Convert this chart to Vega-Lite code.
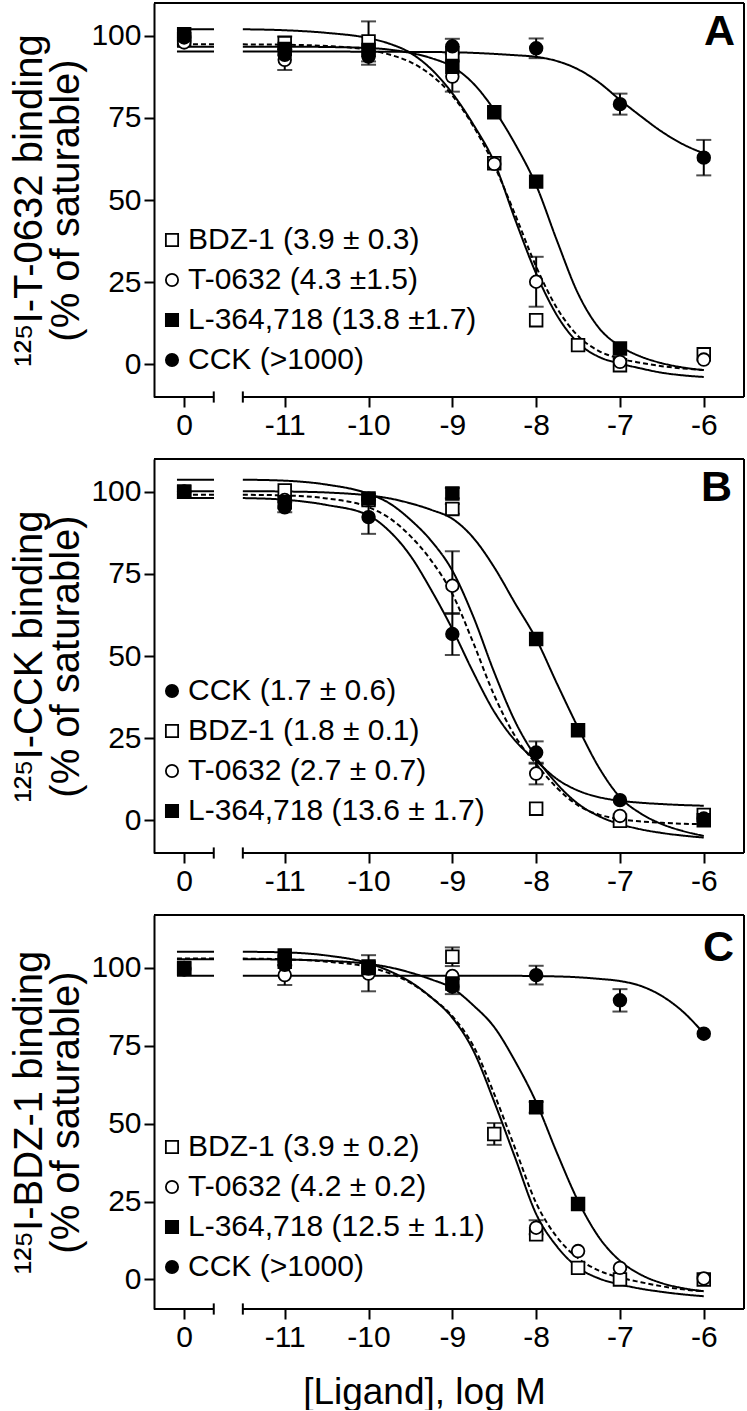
{
"$schema":"https://vega.github.io/schema/vega-lite/v6.json",
"background":"white",
"padding":{"left":9,"top":2,"right":0,"bottom":0},
"config":{
 "font":"Liberation Sans",
 "view":{"stroke":null},
 "axis":{"labelFontSize":30,"labelColor":"black","tickColor":"black","domainColor":"black","tickSize":10,"tickWidth":2,"domainWidth":2,"grid":false,"labelPadding":3,"titleFontSize":40,"titleFontWeight":"normal","titleColor":"black"},
 "legend":{"orient":"none","labelFontSize":30,"labelColor":"black","labelLimit":600,"symbolStrokeColor":"black","symbolStrokeWidth":1.8,"symbolSize":150,"rowPadding":10,"labelOffset":1,"padding":0}
},
"datasets":{
"one":[{}],
"pts":[
{"panel":"A","label":"BDZ-1 (3.9 ± 0.3)","logM":0,"pct":99},
{"panel":"A","label":"BDZ-1 (3.9 ± 0.3)","logM":-11,"pct":97.8},
{"panel":"A","label":"BDZ-1 (3.9 ± 0.3)","logM":-10,"pct":98.3},
{"panel":"A","label":"BDZ-1 (3.9 ± 0.3)","logM":-9,"pct":94.7},
{"panel":"A","label":"BDZ-1 (3.9 ± 0.3)","logM":-8.5,"pct":61.2},
{"panel":"A","label":"BDZ-1 (3.9 ± 0.3)","logM":-8,"pct":13.4},
{"panel":"A","label":"BDZ-1 (3.9 ± 0.3)","logM":-7.5,"pct":5.8},
{"panel":"A","label":"BDZ-1 (3.9 ± 0.3)","logM":-7,"pct":-0.3},
{"panel":"A","label":"BDZ-1 (3.9 ± 0.3)","logM":-6,"pct":3.0},
{"panel":"A","label":"T-0632 (4.3 ±1.5)","logM":0,"pct":98},
{"panel":"A","label":"T-0632 (4.3 ±1.5)","logM":-11,"pct":92.7},
{"panel":"A","label":"T-0632 (4.3 ±1.5)","logM":-10,"pct":95},
{"panel":"A","label":"T-0632 (4.3 ±1.5)","logM":-9,"pct":87.6},
{"panel":"A","label":"T-0632 (4.3 ±1.5)","logM":-8.5,"pct":61},
{"panel":"A","label":"T-0632 (4.3 ±1.5)","logM":-8,"pct":25.1},
{"panel":"A","label":"T-0632 (4.3 ±1.5)","logM":-7,"pct":0.7},
{"panel":"A","label":"T-0632 (4.3 ±1.5)","logM":-6,"pct":1.4},
{"panel":"A","label":"L-364,718 (13.8 ±1.7)","logM":0,"pct":100.5},
{"panel":"A","label":"L-364,718 (13.8 ±1.7)","logM":-11,"pct":96},
{"panel":"A","label":"L-364,718 (13.8 ±1.7)","logM":-10,"pct":95.7},
{"panel":"A","label":"L-364,718 (13.8 ±1.7)","logM":-9,"pct":90.6},
{"panel":"A","label":"L-364,718 (13.8 ±1.7)","logM":-8.5,"pct":76.7},
{"panel":"A","label":"L-364,718 (13.8 ±1.7)","logM":-8,"pct":55.6},
{"panel":"A","label":"L-364,718 (13.8 ±1.7)","logM":-7,"pct":4.8},
{"panel":"A","label":"CCK (>1000)","logM":0,"pct":99.5},
{"panel":"A","label":"CCK (>1000)","logM":-11,"pct":94.2},
{"panel":"A","label":"CCK (>1000)","logM":-10,"pct":93.7},
{"panel":"A","label":"CCK (>1000)","logM":-9,"pct":96.8},
{"panel":"A","label":"CCK (>1000)","logM":-8,"pct":96.2},
{"panel":"A","label":"CCK (>1000)","logM":-7,"pct":79.2},
{"panel":"A","label":"CCK (>1000)","logM":-6,"pct":62.9},
{"panel":"B","label":"BDZ-1 (1.8 ± 0.1)","logM":0,"pct":100},
{"panel":"B","label":"BDZ-1 (1.8 ± 0.1)","logM":-11,"pct":100.4},
{"panel":"B","label":"BDZ-1 (1.8 ± 0.1)","logM":-10,"pct":97.5},
{"panel":"B","label":"BDZ-1 (1.8 ± 0.1)","logM":-9,"pct":94.8},
{"panel":"B","label":"BDZ-1 (1.8 ± 0.1)","logM":-8,"pct":3.5},
{"panel":"B","label":"BDZ-1 (1.8 ± 0.1)","logM":-7,"pct":-0.2},
{"panel":"B","label":"BDZ-1 (1.8 ± 0.1)","logM":-6,"pct":1.6},
{"panel":"B","label":"T-0632 (2.7 ± 0.7)","logM":0,"pct":100},
{"panel":"B","label":"T-0632 (2.7 ± 0.7)","logM":-11,"pct":97.5},
{"panel":"B","label":"T-0632 (2.7 ± 0.7)","logM":-10,"pct":97.9},
{"panel":"B","label":"T-0632 (2.7 ± 0.7)","logM":-9,"pct":71.4},
{"panel":"B","label":"T-0632 (2.7 ± 0.7)","logM":-8,"pct":14.2},
{"panel":"B","label":"T-0632 (2.7 ± 0.7)","logM":-7,"pct":1.3},
{"panel":"B","label":"L-364,718 (13.6 ± 1.7)","logM":0,"pct":100},
{"panel":"B","label":"L-364,718 (13.6 ± 1.7)","logM":-11,"pct":96.8},
{"panel":"B","label":"L-364,718 (13.6 ± 1.7)","logM":-10,"pct":98},
{"panel":"B","label":"L-364,718 (13.6 ± 1.7)","logM":-9,"pct":99.5},
{"panel":"B","label":"L-364,718 (13.6 ± 1.7)","logM":-8,"pct":55.2},
{"panel":"B","label":"L-364,718 (13.6 ± 1.7)","logM":-7.5,"pct":27.4},
{"panel":"B","label":"L-364,718 (13.6 ± 1.7)","logM":-6,"pct":0},
{"panel":"B","label":"CCK (1.7 ± 0.6)","logM":0,"pct":100},
{"panel":"B","label":"CCK (1.7 ± 0.6)","logM":-11,"pct":95.3},
{"panel":"B","label":"CCK (1.7 ± 0.6)","logM":-10,"pct":92.3},
{"panel":"B","label":"CCK (1.7 ± 0.6)","logM":-9,"pct":56.7},
{"panel":"B","label":"CCK (1.7 ± 0.6)","logM":-8,"pct":20.6},
{"panel":"B","label":"CCK (1.7 ± 0.6)","logM":-7,"pct":6.1},
{"panel":"B","label":"CCK (1.7 ± 0.6)","logM":-6,"pct":0.5},
{"panel":"C","label":"BDZ-1 (3.9 ± 0.2)","logM":0,"pct":100},
{"panel":"C","label":"BDZ-1 (3.9 ± 0.2)","logM":-11,"pct":102},
{"panel":"C","label":"BDZ-1 (3.9 ± 0.2)","logM":-10,"pct":100.5},
{"panel":"C","label":"BDZ-1 (3.9 ± 0.2)","logM":-9,"pct":103.6},
{"panel":"C","label":"BDZ-1 (3.9 ± 0.2)","logM":-8.5,"pct":46.7},
{"panel":"C","label":"BDZ-1 (3.9 ± 0.2)","logM":-8,"pct":14.5},
{"panel":"C","label":"BDZ-1 (3.9 ± 0.2)","logM":-7.5,"pct":3.7},
{"panel":"C","label":"BDZ-1 (3.9 ± 0.2)","logM":-7,"pct":0},
{"panel":"C","label":"BDZ-1 (3.9 ± 0.2)","logM":-6,"pct":0},
{"panel":"C","label":"T-0632 (4.2 ± 0.2)","logM":0,"pct":99.5},
{"panel":"C","label":"T-0632 (4.2 ± 0.2)","logM":-11,"pct":97.7},
{"panel":"C","label":"T-0632 (4.2 ± 0.2)","logM":-10,"pct":98.2},
{"panel":"C","label":"T-0632 (4.2 ± 0.2)","logM":-9,"pct":97.4},
{"panel":"C","label":"T-0632 (4.2 ± 0.2)","logM":-8,"pct":16.6},
{"panel":"C","label":"T-0632 (4.2 ± 0.2)","logM":-7.5,"pct":9.1},
{"panel":"C","label":"T-0632 (4.2 ± 0.2)","logM":-7,"pct":3.7},
{"panel":"C","label":"T-0632 (4.2 ± 0.2)","logM":-6,"pct":0.3},
{"panel":"C","label":"L-364,718 (12.5 ± 1.1)","logM":0,"pct":99.8},
{"panel":"C","label":"L-364,718 (12.5 ± 1.1)","logM":-11,"pct":104},
{"panel":"C","label":"L-364,718 (12.5 ± 1.1)","logM":-10,"pct":100},
{"panel":"C","label":"L-364,718 (12.5 ± 1.1)","logM":-9,"pct":95},
{"panel":"C","label":"L-364,718 (12.5 ± 1.1)","logM":-8,"pct":55.3},
{"panel":"C","label":"L-364,718 (12.5 ± 1.1)","logM":-7.5,"pct":24.2},
{"panel":"C","label":"CCK (>1000)","logM":0,"pct":100},
{"panel":"C","label":"CCK (>1000)","logM":-11,"pct":101},
{"panel":"C","label":"CCK (>1000)","logM":-10,"pct":99.8},
{"panel":"C","label":"CCK (>1000)","logM":-9,"pct":94},
{"panel":"C","label":"CCK (>1000)","logM":-8,"pct":97.7},
{"panel":"C","label":"CCK (>1000)","logM":-7,"pct":89.6},
{"panel":"C","label":"CCK (>1000)","logM":-6,"pct":78.9}
],
"err":[
{"panel":"A","logM":-11,"lo":95.8,"hi":99.8},
{"panel":"A","logM":-10,"lo":92.2,"hi":104.4},
{"panel":"A","logM":-11,"lo":89.6,"hi":95.8},
{"panel":"A","logM":-9,"lo":83,"hi":92.2},
{"panel":"A","logM":-8,"lo":17.5,"hi":32.7},
{"panel":"A","logM":-10,"lo":91.2,"hi":96.2},
{"panel":"A","logM":-9,"lo":94.5,"hi":99.1},
{"panel":"A","logM":-8,"lo":93.2,"hi":99.2},
{"panel":"A","logM":-7,"lo":76,"hi":82.4},
{"panel":"A","logM":-6,"lo":57.5,"hi":68.3},
{"panel":"B","logM":-11,"lo":93.8,"hi":96.8},
{"panel":"B","logM":-10,"lo":87.2,"hi":97.4},
{"panel":"B","logM":-9,"lo":50.3,"hi":63.1},
{"panel":"B","logM":-8,"lo":17.2,"hi":24},
{"panel":"B","logM":-9,"lo":62.8,"hi":81.9},
{"panel":"B","logM":-8,"lo":10.9,"hi":17.5},
{"panel":"B","logM":-9,"lo":93.3,"hi":96.3},
{"panel":"B","logM":-9,"lo":98,"hi":101.2},
{"panel":"C","logM":-9,"lo":100.6,"hi":106.6},
{"panel":"C","logM":-8.5,"lo":43.2,"hi":50.2},
{"panel":"C","logM":-11,"lo":94.5,"hi":100.9},
{"panel":"C","logM":-10,"lo":92.5,"hi":104.1},
{"panel":"C","logM":-8,"lo":14.5,"hi":19},
{"panel":"C","logM":-8,"lo":53.5,"hi":57},
{"panel":"C","logM":-9,"lo":91.6,"hi":96.4},
{"panel":"C","logM":-8,"lo":94.7,"hi":100.7},
{"panel":"C","logM":-7,"lo":86,"hi":93.2}
],
"zero":[
{"panel":"A","ligand":"BDZ-1","top":102},
{"panel":"A","ligand":"T-0632","top":97.4},
{"panel":"A","ligand":"L-364,718","top":96.7},
{"panel":"A","ligand":"CCK","top":95.2},
{"panel":"B","ligand":"BDZ-1","top":103.7},
{"panel":"B","ligand":"T-0632","top":99.1},
{"panel":"B","ligand":"L-364,718","top":100.2},
{"panel":"B","ligand":"CCK","top":98.1},
{"panel":"C","ligand":"BDZ-1","top":105.2},
{"panel":"C","ligand":"T-0632","top":103},
{"panel":"C","ligand":"L-364,718","top":102.8},
{"panel":"C","ligand":"CCK","top":97.5}
],
"curves":[
{"panel":"A","ligand":"BDZ-1","logM":-11.5,"pct":102.0},{"panel":"A","ligand":"BDZ-1","logM":-11,"pct":101.7},{"panel":"A","ligand":"BDZ-1","logM":-10.5,"pct":100.9},{"panel":"A","ligand":"BDZ-1","logM":-10,"pct":99.3},{"panel":"A","ligand":"BDZ-1","logM":-9.75,"pct":97.6},{"panel":"A","ligand":"BDZ-1","logM":-9.5,"pct":94.8},{"panel":"A","ligand":"BDZ-1","logM":-9.25,"pct":89.8},{"panel":"A","ligand":"BDZ-1","logM":-9,"pct":82.5},{"panel":"A","ligand":"BDZ-1","logM":-8.75,"pct":73},{"panel":"A","ligand":"BDZ-1","logM":-8.5,"pct":61.5},{"panel":"A","ligand":"BDZ-1","logM":-8.25,"pct":44},{"panel":"A","ligand":"BDZ-1","logM":-8,"pct":27.6},{"panel":"A","ligand":"BDZ-1","logM":-7.75,"pct":14.8},{"panel":"A","ligand":"BDZ-1","logM":-7.5,"pct":6.5},{"panel":"A","ligand":"BDZ-1","logM":-7.25,"pct":2.2},{"panel":"A","ligand":"BDZ-1","logM":-7,"pct":0.2},{"panel":"A","ligand":"BDZ-1","logM":-6.75,"pct":-1.3},{"panel":"A","ligand":"BDZ-1","logM":-6.5,"pct":-2.6},{"panel":"A","ligand":"BDZ-1","logM":-6.25,"pct":-3.4},{"panel":"A","ligand":"BDZ-1","logM":-6,"pct":-3.9},
{"panel":"A","ligand":"T-0632","logM":-11.5,"pct":97.4},{"panel":"A","ligand":"T-0632","logM":-11,"pct":97.3},{"panel":"A","ligand":"T-0632","logM":-10.5,"pct":96.9},{"panel":"A","ligand":"T-0632","logM":-10,"pct":95.7},{"panel":"A","ligand":"T-0632","logM":-9.75,"pct":94.3},{"panel":"A","ligand":"T-0632","logM":-9.5,"pct":92},{"panel":"A","ligand":"T-0632","logM":-9.25,"pct":88},{"panel":"A","ligand":"T-0632","logM":-9,"pct":81.8},{"panel":"A","ligand":"T-0632","logM":-8.75,"pct":72.5},{"panel":"A","ligand":"T-0632","logM":-8.5,"pct":60.5},{"panel":"A","ligand":"T-0632","logM":-8.25,"pct":45.5},{"panel":"A","ligand":"T-0632","logM":-8,"pct":29.7},{"panel":"A","ligand":"T-0632","logM":-7.75,"pct":17},{"panel":"A","ligand":"T-0632","logM":-7.5,"pct":8.6},{"panel":"A","ligand":"T-0632","logM":-7.25,"pct":4},{"panel":"A","ligand":"T-0632","logM":-7,"pct":1.7},{"panel":"A","ligand":"T-0632","logM":-6.75,"pct":0.4},{"panel":"A","ligand":"T-0632","logM":-6.5,"pct":-0.6},{"panel":"A","ligand":"T-0632","logM":-6.25,"pct":-1.3},{"panel":"A","ligand":"T-0632","logM":-6,"pct":-1.8},
{"panel":"A","ligand":"L-364,718","logM":-11.5,"pct":96.7},{"panel":"A","ligand":"L-364,718","logM":-11,"pct":96.7},{"panel":"A","ligand":"L-364,718","logM":-10.5,"pct":96.6},{"panel":"A","ligand":"L-364,718","logM":-10,"pct":96.3},{"panel":"A","ligand":"L-364,718","logM":-9.75,"pct":95.8},{"panel":"A","ligand":"L-364,718","logM":-9.5,"pct":94.8},{"panel":"A","ligand":"L-364,718","logM":-9.25,"pct":93.2},{"panel":"A","ligand":"L-364,718","logM":-9,"pct":90.6},{"panel":"A","ligand":"L-364,718","logM":-8.75,"pct":85.5},{"panel":"A","ligand":"L-364,718","logM":-8.5,"pct":77.4},{"panel":"A","ligand":"L-364,718","logM":-8.25,"pct":67},{"panel":"A","ligand":"L-364,718","logM":-8,"pct":54.5},{"panel":"A","ligand":"L-364,718","logM":-7.75,"pct":37.5},{"panel":"A","ligand":"L-364,718","logM":-7.5,"pct":21.5},{"panel":"A","ligand":"L-364,718","logM":-7.25,"pct":11},{"panel":"A","ligand":"L-364,718","logM":-7,"pct":5.5},{"panel":"A","ligand":"L-364,718","logM":-6.75,"pct":2.3},{"panel":"A","ligand":"L-364,718","logM":-6.5,"pct":0.3},{"panel":"A","ligand":"L-364,718","logM":-6.25,"pct":-1},{"panel":"A","ligand":"L-364,718","logM":-6,"pct":-1.8},
{"panel":"A","ligand":"CCK","logM":-11.5,"pct":95.2},{"panel":"A","ligand":"CCK","logM":-10.5,"pct":95.2},{"panel":"A","ligand":"CCK","logM":-9.5,"pct":95.1},{"panel":"A","ligand":"CCK","logM":-9,"pct":95},{"panel":"A","ligand":"CCK","logM":-8.5,"pct":94.5},{"panel":"A","ligand":"CCK","logM":-8.25,"pct":94.1},{"panel":"A","ligand":"CCK","logM":-8,"pct":93.6},{"panel":"A","ligand":"CCK","logM":-7.75,"pct":92.3},{"panel":"A","ligand":"CCK","logM":-7.5,"pct":89.8},{"panel":"A","ligand":"CCK","logM":-7.25,"pct":85.8},{"panel":"A","ligand":"CCK","logM":-7,"pct":80.5},{"panel":"A","ligand":"CCK","logM":-6.75,"pct":75.5},{"panel":"A","ligand":"CCK","logM":-6.5,"pct":70.8},{"panel":"A","ligand":"CCK","logM":-6.25,"pct":67},{"panel":"A","ligand":"CCK","logM":-6,"pct":64.2},
{"panel":"B","ligand":"BDZ-1","logM":-11.5,"pct":103.7},{"panel":"B","ligand":"BDZ-1","logM":-11,"pct":103.4},{"panel":"B","ligand":"BDZ-1","logM":-10.5,"pct":102.2},{"panel":"B","ligand":"BDZ-1","logM":-10,"pct":99.4},{"panel":"B","ligand":"BDZ-1","logM":-9.75,"pct":96.5},{"panel":"B","ligand":"BDZ-1","logM":-9.5,"pct":91.5},{"panel":"B","ligand":"BDZ-1","logM":-9.25,"pct":85},{"panel":"B","ligand":"BDZ-1","logM":-9,"pct":76},{"panel":"B","ligand":"BDZ-1","logM":-8.75,"pct":62},{"panel":"B","ligand":"BDZ-1","logM":-8.5,"pct":45},{"panel":"B","ligand":"BDZ-1","logM":-8.25,"pct":30},{"panel":"B","ligand":"BDZ-1","logM":-8,"pct":19.1},{"panel":"B","ligand":"BDZ-1","logM":-7.75,"pct":11},{"panel":"B","ligand":"BDZ-1","logM":-7.5,"pct":5},{"panel":"B","ligand":"BDZ-1","logM":-7.25,"pct":1.2},{"panel":"B","ligand":"BDZ-1","logM":-7,"pct":-1.2},{"panel":"B","ligand":"BDZ-1","logM":-6.75,"pct":-2.8},{"panel":"B","ligand":"BDZ-1","logM":-6.5,"pct":-3.9},{"panel":"B","ligand":"BDZ-1","logM":-6.25,"pct":-4.7},{"panel":"B","ligand":"BDZ-1","logM":-6,"pct":-5.3},
{"panel":"B","ligand":"T-0632","logM":-11.5,"pct":99.1},{"panel":"B","ligand":"T-0632","logM":-11,"pct":98.9},{"panel":"B","ligand":"T-0632","logM":-10.5,"pct":98},{"panel":"B","ligand":"T-0632","logM":-10,"pct":95.3},{"panel":"B","ligand":"T-0632","logM":-9.75,"pct":92},{"panel":"B","ligand":"T-0632","logM":-9.5,"pct":86.5},{"panel":"B","ligand":"T-0632","logM":-9.25,"pct":79},{"panel":"B","ligand":"T-0632","logM":-9,"pct":68.9},{"panel":"B","ligand":"T-0632","logM":-8.75,"pct":54},{"panel":"B","ligand":"T-0632","logM":-8.5,"pct":38},{"panel":"B","ligand":"T-0632","logM":-8.25,"pct":25.5},{"panel":"B","ligand":"T-0632","logM":-8,"pct":17.1},{"panel":"B","ligand":"T-0632","logM":-7.75,"pct":9.8},{"panel":"B","ligand":"T-0632","logM":-7.5,"pct":4.5},{"panel":"B","ligand":"T-0632","logM":-7.25,"pct":1.7},{"panel":"B","ligand":"T-0632","logM":-7,"pct":0.3},{"panel":"B","ligand":"T-0632","logM":-6.75,"pct":-0.4},{"panel":"B","ligand":"T-0632","logM":-6.5,"pct":-0.8},{"panel":"B","ligand":"T-0632","logM":-6.25,"pct":-1.1},{"panel":"B","ligand":"T-0632","logM":-6,"pct":-1.2},
{"panel":"B","ligand":"CCK","logM":-11.5,"pct":98.1},{"panel":"B","ligand":"CCK","logM":-11,"pct":97.6},{"panel":"B","ligand":"CCK","logM":-10.5,"pct":96},{"panel":"B","ligand":"CCK","logM":-10,"pct":92.8},{"panel":"B","ligand":"CCK","logM":-9.75,"pct":88},{"panel":"B","ligand":"CCK","logM":-9.5,"pct":80.5},{"panel":"B","ligand":"CCK","logM":-9.25,"pct":70},{"panel":"B","ligand":"CCK","logM":-9,"pct":58.2},{"panel":"B","ligand":"CCK","logM":-8.75,"pct":45},{"panel":"B","ligand":"CCK","logM":-8.5,"pct":33},{"panel":"B","ligand":"CCK","logM":-8.25,"pct":24.2},{"panel":"B","ligand":"CCK","logM":-8,"pct":18.1},{"panel":"B","ligand":"CCK","logM":-7.75,"pct":12.5},{"panel":"B","ligand":"CCK","logM":-7.5,"pct":9},{"panel":"B","ligand":"CCK","logM":-7.25,"pct":7},{"panel":"B","ligand":"CCK","logM":-7,"pct":5.9},{"panel":"B","ligand":"CCK","logM":-6.75,"pct":5.3},{"panel":"B","ligand":"CCK","logM":-6.5,"pct":4.9},{"panel":"B","ligand":"CCK","logM":-6.25,"pct":4.6},{"panel":"B","ligand":"CCK","logM":-6,"pct":4.4},
{"panel":"B","ligand":"L-364,718","logM":-11.5,"pct":100.2},{"panel":"B","ligand":"L-364,718","logM":-11,"pct":100.1},{"panel":"B","ligand":"L-364,718","logM":-10.5,"pct":99.8},{"panel":"B","ligand":"L-364,718","logM":-10,"pct":98.9},{"panel":"B","ligand":"L-364,718","logM":-9.75,"pct":98},{"panel":"B","ligand":"L-364,718","logM":-9.5,"pct":96.5},{"panel":"B","ligand":"L-364,718","logM":-9.25,"pct":94.5},{"panel":"B","ligand":"L-364,718","logM":-9,"pct":91.8},{"panel":"B","ligand":"L-364,718","logM":-8.75,"pct":86},{"panel":"B","ligand":"L-364,718","logM":-8.5,"pct":77},{"panel":"B","ligand":"L-364,718","logM":-8.25,"pct":66},{"panel":"B","ligand":"L-364,718","logM":-8,"pct":55.2},{"panel":"B","ligand":"L-364,718","logM":-7.75,"pct":41.5},{"panel":"B","ligand":"L-364,718","logM":-7.5,"pct":28.2},{"panel":"B","ligand":"L-364,718","logM":-7.25,"pct":16},{"panel":"B","ligand":"L-364,718","logM":-7,"pct":7},{"panel":"B","ligand":"L-364,718","logM":-6.75,"pct":2},{"panel":"B","ligand":"L-364,718","logM":-6.5,"pct":-1.2},{"panel":"B","ligand":"L-364,718","logM":-6.25,"pct":-3.3},{"panel":"B","ligand":"L-364,718","logM":-6,"pct":-4.8},
{"panel":"C","ligand":"BDZ-1","logM":-11.5,"pct":105.2},{"panel":"C","ligand":"BDZ-1","logM":-11,"pct":105},{"panel":"C","ligand":"BDZ-1","logM":-10.5,"pct":104},{"panel":"C","ligand":"BDZ-1","logM":-10,"pct":101.5},{"panel":"C","ligand":"BDZ-1","logM":-9.75,"pct":99},{"panel":"C","ligand":"BDZ-1","logM":-9.5,"pct":95.5},{"panel":"C","ligand":"BDZ-1","logM":-9.25,"pct":90.5},{"panel":"C","ligand":"BDZ-1","logM":-9,"pct":84},{"panel":"C","ligand":"BDZ-1","logM":-8.75,"pct":73.5},{"panel":"C","ligand":"BDZ-1","logM":-8.5,"pct":57},{"panel":"C","ligand":"BDZ-1","logM":-8.25,"pct":39},{"panel":"C","ligand":"BDZ-1","logM":-8,"pct":21},{"panel":"C","ligand":"BDZ-1","logM":-7.75,"pct":10.5},{"panel":"C","ligand":"BDZ-1","logM":-7.5,"pct":3.8},{"panel":"C","ligand":"BDZ-1","logM":-7.25,"pct":0.3},{"panel":"C","ligand":"BDZ-1","logM":-7,"pct":-1.6},{"panel":"C","ligand":"BDZ-1","logM":-6.75,"pct":-3},{"panel":"C","ligand":"BDZ-1","logM":-6.5,"pct":-4},{"panel":"C","ligand":"BDZ-1","logM":-6.25,"pct":-4.8},{"panel":"C","ligand":"BDZ-1","logM":-6,"pct":-5.4},
{"panel":"C","ligand":"T-0632","logM":-11.5,"pct":103},{"panel":"C","ligand":"T-0632","logM":-11,"pct":102.8},{"panel":"C","ligand":"T-0632","logM":-10.5,"pct":102},{"panel":"C","ligand":"T-0632","logM":-10,"pct":100.3},{"panel":"C","ligand":"T-0632","logM":-9.75,"pct":98.3},{"panel":"C","ligand":"T-0632","logM":-9.5,"pct":95.2},{"panel":"C","ligand":"T-0632","logM":-9.25,"pct":90.5},{"panel":"C","ligand":"T-0632","logM":-9,"pct":84.5},{"panel":"C","ligand":"T-0632","logM":-8.75,"pct":75},{"panel":"C","ligand":"T-0632","logM":-8.5,"pct":59.5},{"panel":"C","ligand":"T-0632","logM":-8.25,"pct":42},{"panel":"C","ligand":"T-0632","logM":-8,"pct":24.5},{"panel":"C","ligand":"T-0632","logM":-7.75,"pct":13.5},{"panel":"C","ligand":"T-0632","logM":-7.5,"pct":6.8},{"panel":"C","ligand":"T-0632","logM":-7.25,"pct":2.8},{"panel":"C","ligand":"T-0632","logM":-7,"pct":0.6},{"panel":"C","ligand":"T-0632","logM":-6.75,"pct":-0.9},{"panel":"C","ligand":"T-0632","logM":-6.5,"pct":-2.2},{"panel":"C","ligand":"T-0632","logM":-6.25,"pct":-3.2},{"panel":"C","ligand":"T-0632","logM":-6,"pct":-3.8},
{"panel":"C","ligand":"L-364,718","logM":-11.5,"pct":102.8},{"panel":"C","ligand":"L-364,718","logM":-11,"pct":102.7},{"panel":"C","ligand":"L-364,718","logM":-10.5,"pct":102.3},{"panel":"C","ligand":"L-364,718","logM":-10,"pct":101.3},{"panel":"C","ligand":"L-364,718","logM":-9.75,"pct":100.2},{"panel":"C","ligand":"L-364,718","logM":-9.5,"pct":98.5},{"panel":"C","ligand":"L-364,718","logM":-9.25,"pct":96.3},{"panel":"C","ligand":"L-364,718","logM":-9,"pct":93.5},{"panel":"C","ligand":"L-364,718","logM":-8.75,"pct":88},{"panel":"C","ligand":"L-364,718","logM":-8.5,"pct":81},{"panel":"C","ligand":"L-364,718","logM":-8.25,"pct":70},{"panel":"C","ligand":"L-364,718","logM":-8,"pct":56.9},{"panel":"C","ligand":"L-364,718","logM":-7.75,"pct":40.5},{"panel":"C","ligand":"L-364,718","logM":-7.5,"pct":25.2},{"panel":"C","ligand":"L-364,718","logM":-7.25,"pct":13.5},{"panel":"C","ligand":"L-364,718","logM":-7,"pct":6},{"panel":"C","ligand":"L-364,718","logM":-6.75,"pct":1.5},{"panel":"C","ligand":"L-364,718","logM":-6.5,"pct":-1.2},{"panel":"C","ligand":"L-364,718","logM":-6.25,"pct":-2.8},{"panel":"C","ligand":"L-364,718","logM":-6,"pct":-3.8},
{"panel":"C","ligand":"CCK","logM":-11.5,"pct":97.5},{"panel":"C","ligand":"CCK","logM":-10.5,"pct":97.5},{"panel":"C","ligand":"CCK","logM":-9.5,"pct":97.5},{"panel":"C","ligand":"CCK","logM":-8.5,"pct":97.5},{"panel":"C","ligand":"CCK","logM":-8,"pct":97.4},{"panel":"C","ligand":"CCK","logM":-7.5,"pct":97},{"panel":"C","ligand":"CCK","logM":-7.25,"pct":96.5},{"panel":"C","ligand":"CCK","logM":-7,"pct":95.8},{"panel":"C","ligand":"CCK","logM":-6.75,"pct":94.2},{"panel":"C","ligand":"CCK","logM":-6.5,"pct":91},{"panel":"C","ligand":"CCK","logM":-6.25,"pct":86},{"panel":"C","ligand":"CCK","logM":-6,"pct":79}
]
},
"vconcat":[
{
 "width":590,"height":394,
 "layer":[
  {"layer":[
   {"data":{"name":"curves"},"transform":[{"filter":"datum.panel==='A'"}],
    "mark":{"type":"line","strokeWidth":2,"color":"black","interpolate":"monotone"},
    "encoding":{
     "x":{"field":"logM","type":"quantitative","scale":{"domain":[-12.56,-5.52],"nice":false,"zero":false},"axis":{"values":[-11,-10,-9,-8,-7,-6],"domain":false,"title":null,"labelExpr":"'' + datum.value"}},
     "y":{"field":"pct","type":"quantitative","scale":{"domain":[-10,110],"nice":false,"zero":false},"axis":{"values":[0,25,50,75,100],"title":["¹²⁵I-T-0632 binding","(% of saturable)"],"titleLineHeight":37,"titlePadding":4}},
     "detail":{"field":"ligand","type":"nominal"},
     "strokeDash":{"field":"ligand","type":"nominal","scale":{"domain":["BDZ-1","T-0632","L-364,718","CCK"],"range":[[1,0],[5,3],[1,0],[1,0]]},"legend":null}}},
   {"data":{"name":"err"},"transform":[{"filter":"datum.panel==='A'"}],"mark":{"type":"rule","strokeWidth":2,"color":"black"},
    "encoding":{"x":{"field":"logM","type":"quantitative"},"y":{"field":"lo","type":"quantitative"},"y2":{"field":"hi"}}},
   {"data":{"name":"err"},"transform":[{"filter":"datum.panel==='A'"}],"mark":{"type":"tick","orient":"horizontal","size":15,"thickness":2,"color":"black"},
    "encoding":{"x":{"field":"logM","type":"quantitative"},"y":{"field":"lo","type":"quantitative"}}},
   {"data":{"name":"err"},"transform":[{"filter":"datum.panel==='A'"}],"mark":{"type":"tick","orient":"horizontal","size":15,"thickness":2,"color":"black"},
    "encoding":{"x":{"field":"logM","type":"quantitative"},"y":{"field":"hi","type":"quantitative"}}},
   {"data":{"name":"pts"},"transform":[{"filter":"datum.panel==='A' && datum.logM < -1"}],
    "mark":{"type":"point","strokeWidth":1.8,"opacity":1,"size":160},
    "encoding":{"x":{"field":"logM","type":"quantitative"},"y":{"field":"pct","type":"quantitative"},
     "shape":{"field":"label","type":"nominal","scale":{"domain":["BDZ-1 (3.9 ± 0.3)","T-0632 (4.3 ±1.5)","L-364,718 (13.8 ±1.7)","CCK (>1000)"],"range":["square","circle","square","circle"]},"legend":{"title":null,"legendX":3,"legendY":222}},
     "fill":{"field":"label","type":"nominal","scale":{"domain":["BDZ-1 (3.9 ± 0.3)","T-0632 (4.3 ±1.5)","L-364,718 (13.8 ±1.7)","CCK (>1000)"],"range":["white","white","black","black"]},"legend":{"title":null,"legendX":3,"legendY":222}},
     "stroke":{"field":"label","type":"nominal","scale":{"domain":["BDZ-1 (3.9 ± 0.3)","T-0632 (4.3 ±1.5)","L-364,718 (13.8 ±1.7)","CCK (>1000)"],"range":["black","black","black","black"]},"legend":{"title":null,"legendX":3,"legendY":222}}}},
   {"data":{"name":"one"},"mark":{"type":"rule","color":"black","strokeWidth":2},"encoding":{"y":{"datum":110}}},
   {"data":{"name":"one"},"mark":{"type":"rule","color":"black","strokeWidth":2},"encoding":{"x":{"datum":-5.52}}},
   {"data":{"name":"one"},"mark":{"type":"rule","color":"black","strokeWidth":2},"encoding":{"x":{"datum":-12.56},"x2":{"datum":-11.847},"y":{"datum":-10}}},
   {"data":{"name":"one"},"mark":{"type":"rule","color":"black","strokeWidth":2},"encoding":{"x":{"datum":-11.5},"x2":{"datum":-5.52},"y":{"datum":-10}}},
   {"data":{"name":"one"},"mark":{"type":"rule","color":"black","strokeWidth":2},"encoding":{"x":{"datum":-11.847},"y":{"datum":-11.7},"y2":{"datum":-8.3}}},
   {"data":{"name":"one"},"mark":{"type":"rule","color":"black","strokeWidth":2},"encoding":{"x":{"datum":-11.5},"y":{"datum":-11.7},"y2":{"datum":-8.3}}},
   {"data":{"name":"one"},"mark":{"type":"text","text":"A","fontSize":43,"fontWeight":"bold","align":"right","baseline":"alphabetic","color":"black"},"encoding":{"x":{"datum":-5.627},"y":{"datum":97.3}}}
  ]},
  {"layer":[
   {"data":{"name":"zero"},"transform":[{"filter":"datum.panel==='A'"}],"mark":{"type":"rule","strokeWidth":2,"color":"black"},
    "encoding":{"x":{"datum":-0.086},"x2":{"datum":0.356},"y":{"field":"top","type":"quantitative"},
     "strokeDash":{"field":"ligand","type":"nominal","scale":{"domain":["BDZ-1","T-0632","L-364,718","CCK"],"range":[[1,0],[5,3],[1,0],[1,0]]},"legend":null}}},
   {"data":{"name":"pts"},"transform":[{"filter":"datum.panel==='A' && datum.logM === 0"}],
    "mark":{"type":"point","strokeWidth":1.8,"opacity":1,"size":160},
    "encoding":{"x":{"field":"logM","type":"quantitative","scale":{"domain":[-0.36,6.68],"nice":false,"zero":false},"axis":{"orient":"bottom","values":[0],"domain":false,"title":null,"labelExpr":"'0'"}},"y":{"field":"pct","type":"quantitative"},
     "shape":{"field":"label","type":"nominal","scale":{"domain":["BDZ-1 (3.9 ± 0.3)","T-0632 (4.3 ±1.5)","L-364,718 (13.8 ±1.7)","CCK (>1000)"],"range":["square","circle","square","circle"]},"legend":{"title":null,"legendX":3,"legendY":222}},
     "fill":{"field":"label","type":"nominal","scale":{"domain":["BDZ-1 (3.9 ± 0.3)","T-0632 (4.3 ±1.5)","L-364,718 (13.8 ±1.7)","CCK (>1000)"],"range":["white","white","black","black"]},"legend":{"title":null,"legendX":3,"legendY":222}},
     "stroke":{"field":"label","type":"nominal","scale":{"domain":["BDZ-1 (3.9 ± 0.3)","T-0632 (4.3 ±1.5)","L-364,718 (13.8 ±1.7)","CCK (>1000)"],"range":["black","black","black","black"]},"legend":{"title":null,"legendX":3,"legendY":222}}}}
  ]}
 ],
 "resolve":{"scale":{"x":"independent"},"axis":{"x":"independent"}}
},
{
 "width":590,"height":394,
 "layer":[
  {"layer":[
   {"data":{"name":"curves"},"transform":[{"filter":"datum.panel==='B'"}],
    "mark":{"type":"line","strokeWidth":2,"color":"black","interpolate":"monotone"},
    "encoding":{
     "x":{"field":"logM","type":"quantitative","scale":{"domain":[-12.56,-5.52],"nice":false,"zero":false},"axis":{"values":[-11,-10,-9,-8,-7,-6],"domain":false,"title":null,"labelExpr":"'' + datum.value"}},
     "y":{"field":"pct","type":"quantitative","scale":{"domain":[-10,110],"nice":false,"zero":false},"axis":{"values":[0,25,50,75,100],"title":["¹²⁵I-CCK binding","(% of saturable)"],"titleLineHeight":37,"titlePadding":4}},
     "detail":{"field":"ligand","type":"nominal"},
     "strokeDash":{"field":"ligand","type":"nominal","scale":{"domain":["BDZ-1","T-0632","L-364,718","CCK"],"range":[[1,0],[5,3],[1,0],[1,0]]},"legend":null}}},
   {"data":{"name":"err"},"transform":[{"filter":"datum.panel==='B'"}],"mark":{"type":"rule","strokeWidth":2,"color":"black"},
    "encoding":{"x":{"field":"logM","type":"quantitative"},"y":{"field":"lo","type":"quantitative"},"y2":{"field":"hi"}}},
   {"data":{"name":"err"},"transform":[{"filter":"datum.panel==='B'"}],"mark":{"type":"tick","orient":"horizontal","size":15,"thickness":2,"color":"black"},
    "encoding":{"x":{"field":"logM","type":"quantitative"},"y":{"field":"lo","type":"quantitative"}}},
   {"data":{"name":"err"},"transform":[{"filter":"datum.panel==='B'"}],"mark":{"type":"tick","orient":"horizontal","size":15,"thickness":2,"color":"black"},
    "encoding":{"x":{"field":"logM","type":"quantitative"},"y":{"field":"hi","type":"quantitative"}}},
   {"data":{"name":"pts"},"transform":[{"filter":"datum.panel==='B' && datum.logM < -1"}],
    "mark":{"type":"point","strokeWidth":1.8,"opacity":1,"size":160},
    "encoding":{"x":{"field":"logM","type":"quantitative"},"y":{"field":"pct","type":"quantitative"},
     "shape":{"field":"label","type":"nominal","scale":{"domain":["CCK (1.7 ± 0.6)","BDZ-1 (1.8 ± 0.1)","T-0632 (2.7 ± 0.7)","L-364,718 (13.6 ± 1.7)"],"range":["circle","square","circle","square"]},"legend":{"title":null,"legendX":3,"legendY":217}},
     "fill":{"field":"label","type":"nominal","scale":{"domain":["CCK (1.7 ± 0.6)","BDZ-1 (1.8 ± 0.1)","T-0632 (2.7 ± 0.7)","L-364,718 (13.6 ± 1.7)"],"range":["black","white","white","black"]},"legend":{"title":null,"legendX":3,"legendY":217}},
     "stroke":{"field":"label","type":"nominal","scale":{"domain":["CCK (1.7 ± 0.6)","BDZ-1 (1.8 ± 0.1)","T-0632 (2.7 ± 0.7)","L-364,718 (13.6 ± 1.7)"],"range":["black","black","black","black"]},"legend":{"title":null,"legendX":3,"legendY":217}}}},
   {"data":{"name":"one"},"mark":{"type":"rule","color":"black","strokeWidth":2},"encoding":{"y":{"datum":110}}},
   {"data":{"name":"one"},"mark":{"type":"rule","color":"black","strokeWidth":2},"encoding":{"x":{"datum":-5.52}}},
   {"data":{"name":"one"},"mark":{"type":"rule","color":"black","strokeWidth":2},"encoding":{"x":{"datum":-12.56},"x2":{"datum":-11.847},"y":{"datum":-10}}},
   {"data":{"name":"one"},"mark":{"type":"rule","color":"black","strokeWidth":2},"encoding":{"x":{"datum":-11.5},"x2":{"datum":-5.52},"y":{"datum":-10}}},
   {"data":{"name":"one"},"mark":{"type":"rule","color":"black","strokeWidth":2},"encoding":{"x":{"datum":-11.847},"y":{"datum":-11.7},"y2":{"datum":-8.3}}},
   {"data":{"name":"one"},"mark":{"type":"rule","color":"black","strokeWidth":2},"encoding":{"x":{"datum":-11.5},"y":{"datum":-11.7},"y2":{"datum":-8.3}}},
   {"data":{"name":"one"},"mark":{"type":"text","text":"B","fontSize":43,"fontWeight":"bold","align":"right","baseline":"alphabetic","color":"black"},"encoding":{"x":{"datum":-5.663},"y":{"datum":97.3}}}
  ]},
  {"layer":[
   {"data":{"name":"zero"},"transform":[{"filter":"datum.panel==='B'"}],"mark":{"type":"rule","strokeWidth":2,"color":"black"},
    "encoding":{"x":{"datum":-0.086},"x2":{"datum":0.356},"y":{"field":"top","type":"quantitative"},
     "strokeDash":{"field":"ligand","type":"nominal","scale":{"domain":["BDZ-1","T-0632","L-364,718","CCK"],"range":[[1,0],[5,3],[1,0],[1,0]]},"legend":null}}},
   {"data":{"name":"pts"},"transform":[{"filter":"datum.panel==='B' && datum.logM === 0"}],
    "mark":{"type":"point","strokeWidth":1.8,"opacity":1,"size":160},
    "encoding":{"x":{"field":"logM","type":"quantitative","scale":{"domain":[-0.36,6.68],"nice":false,"zero":false},"axis":{"orient":"bottom","values":[0],"domain":false,"title":null,"labelExpr":"'0'"}},"y":{"field":"pct","type":"quantitative"},
     "shape":{"field":"label","type":"nominal","scale":{"domain":["CCK (1.7 ± 0.6)","BDZ-1 (1.8 ± 0.1)","T-0632 (2.7 ± 0.7)","L-364,718 (13.6 ± 1.7)"],"range":["circle","square","circle","square"]},"legend":{"title":null,"legendX":3,"legendY":217}},
     "fill":{"field":"label","type":"nominal","scale":{"domain":["CCK (1.7 ± 0.6)","BDZ-1 (1.8 ± 0.1)","T-0632 (2.7 ± 0.7)","L-364,718 (13.6 ± 1.7)"],"range":["black","white","white","black"]},"legend":{"title":null,"legendX":3,"legendY":217}},
     "stroke":{"field":"label","type":"nominal","scale":{"domain":["CCK (1.7 ± 0.6)","BDZ-1 (1.8 ± 0.1)","T-0632 (2.7 ± 0.7)","L-364,718 (13.6 ± 1.7)"],"range":["black","black","black","black"]},"legend":{"title":null,"legendX":3,"legendY":217}}}}
  ]}
 ],
 "resolve":{"scale":{"x":"independent"},"axis":{"x":"independent"}}
},
{
 "width":590,"height":394,
 "layer":[
  {"layer":[
   {"data":{"name":"curves"},"transform":[{"filter":"datum.panel==='C'"}],
    "mark":{"type":"line","strokeWidth":2,"color":"black","interpolate":"monotone"},
    "encoding":{
     "x":{"field":"logM","type":"quantitative","scale":{"domain":[-12.56,-5.52],"nice":false,"zero":false},"axis":{"values":[-11,-10,-9,-8,-7,-6],"domain":false,"title":"[Ligand], log M","titleFontSize":37,"titleX":270,"titleY":94,"titleBaseline":"alphabetic","titleAlign":"center","labelExpr":"'' + datum.value"}},
     "y":{"field":"pct","type":"quantitative","scale":{"domain":[-9.5,117],"nice":false,"zero":false},"axis":{"values":[0,25,50,75,100],"title":["¹²⁵I-BDZ-1 binding","(% of saturable)"],"titleLineHeight":37,"titlePadding":4}},
     "detail":{"field":"ligand","type":"nominal"},
     "strokeDash":{"field":"ligand","type":"nominal","scale":{"domain":["BDZ-1","T-0632","L-364,718","CCK"],"range":[[1,0],[5,3],[1,0],[1,0]]},"legend":null}}},
   {"data":{"name":"err"},"transform":[{"filter":"datum.panel==='C'"}],"mark":{"type":"rule","strokeWidth":2,"color":"black"},
    "encoding":{"x":{"field":"logM","type":"quantitative"},"y":{"field":"lo","type":"quantitative"},"y2":{"field":"hi"}}},
   {"data":{"name":"err"},"transform":[{"filter":"datum.panel==='C'"}],"mark":{"type":"tick","orient":"horizontal","size":15,"thickness":2,"color":"black"},
    "encoding":{"x":{"field":"logM","type":"quantitative"},"y":{"field":"lo","type":"quantitative"}}},
   {"data":{"name":"err"},"transform":[{"filter":"datum.panel==='C'"}],"mark":{"type":"tick","orient":"horizontal","size":15,"thickness":2,"color":"black"},
    "encoding":{"x":{"field":"logM","type":"quantitative"},"y":{"field":"hi","type":"quantitative"}}},
   {"data":{"name":"pts"},"transform":[{"filter":"datum.panel==='C' && datum.logM < -1"}],
    "mark":{"type":"point","strokeWidth":1.8,"opacity":1,"size":160},
    "encoding":{"x":{"field":"logM","type":"quantitative"},"y":{"field":"pct","type":"quantitative"},
     "shape":{"field":"label","type":"nominal","scale":{"domain":["BDZ-1 (3.9 ± 0.2)","T-0632 (4.2 ± 0.2)","L-364,718 (12.5 ± 1.1)","CCK (>1000)"],"range":["square","circle","square","circle"]},"legend":{"title":null,"legendX":3,"legendY":217}},
     "fill":{"field":"label","type":"nominal","scale":{"domain":["BDZ-1 (3.9 ± 0.2)","T-0632 (4.2 ± 0.2)","L-364,718 (12.5 ± 1.1)","CCK (>1000)"],"range":["white","white","black","black"]},"legend":{"title":null,"legendX":3,"legendY":217}},
     "stroke":{"field":"label","type":"nominal","scale":{"domain":["BDZ-1 (3.9 ± 0.2)","T-0632 (4.2 ± 0.2)","L-364,718 (12.5 ± 1.1)","CCK (>1000)"],"range":["black","black","black","black"]},"legend":{"title":null,"legendX":3,"legendY":217}}}},
   {"data":{"name":"one"},"mark":{"type":"rule","color":"black","strokeWidth":2},"encoding":{"y":{"datum":117}}},
   {"data":{"name":"one"},"mark":{"type":"rule","color":"black","strokeWidth":2},"encoding":{"x":{"datum":-5.52}}},
   {"data":{"name":"one"},"mark":{"type":"rule","color":"black","strokeWidth":2},"encoding":{"x":{"datum":-12.56},"x2":{"datum":-11.847},"y":{"datum":-9.5}}},
   {"data":{"name":"one"},"mark":{"type":"rule","color":"black","strokeWidth":2},"encoding":{"x":{"datum":-11.5},"x2":{"datum":-5.52},"y":{"datum":-9.5}}},
   {"data":{"name":"one"},"mark":{"type":"rule","color":"black","strokeWidth":2},"encoding":{"x":{"datum":-11.847},"y":{"datum":-11.3},"y2":{"datum":-7.7}}},
   {"data":{"name":"one"},"mark":{"type":"rule","color":"black","strokeWidth":2},"encoding":{"x":{"datum":-11.5},"y":{"datum":-11.3},"y2":{"datum":-7.7}}},
   {"data":{"name":"one"},"mark":{"type":"text","text":"C","fontSize":43,"fontWeight":"bold","align":"right","baseline":"alphabetic","color":"black"},"encoding":{"x":{"datum":-5.64},"y":{"datum":102.2}}}
  ]},
  {"layer":[
   {"data":{"name":"zero"},"transform":[{"filter":"datum.panel==='C'"}],"mark":{"type":"rule","strokeWidth":2,"color":"black"},
    "encoding":{"x":{"datum":-0.086},"x2":{"datum":0.356},"y":{"field":"top","type":"quantitative"},
     "strokeDash":{"field":"ligand","type":"nominal","scale":{"domain":["BDZ-1","T-0632","L-364,718","CCK"],"range":[[1,0],[5,3],[1,0],[1,0]]},"legend":null}}},
   {"data":{"name":"pts"},"transform":[{"filter":"datum.panel==='C' && datum.logM === 0"}],
    "mark":{"type":"point","strokeWidth":1.8,"opacity":1,"size":160},
    "encoding":{"x":{"field":"logM","type":"quantitative","scale":{"domain":[-0.36,6.68],"nice":false,"zero":false},"axis":{"orient":"bottom","values":[0],"domain":false,"title":null,"labelExpr":"'0'"}},"y":{"field":"pct","type":"quantitative"},
     "shape":{"field":"label","type":"nominal","scale":{"domain":["BDZ-1 (3.9 ± 0.2)","T-0632 (4.2 ± 0.2)","L-364,718 (12.5 ± 1.1)","CCK (>1000)"],"range":["square","circle","square","circle"]},"legend":{"title":null,"legendX":3,"legendY":217}},
     "fill":{"field":"label","type":"nominal","scale":{"domain":["BDZ-1 (3.9 ± 0.2)","T-0632 (4.2 ± 0.2)","L-364,718 (12.5 ± 1.1)","CCK (>1000)"],"range":["white","white","black","black"]},"legend":{"title":null,"legendX":3,"legendY":217}},
     "stroke":{"field":"label","type":"nominal","scale":{"domain":["BDZ-1 (3.9 ± 0.2)","T-0632 (4.2 ± 0.2)","L-364,718 (12.5 ± 1.1)","CCK (>1000)"],"range":["black","black","black","black"]},"legend":{"title":null,"legendX":3,"legendY":217}}}}
  ]}
 ],
 "resolve":{"scale":{"x":"independent"},"axis":{"x":"independent"}}
}
],
"spacing":62,
"bounds":"flush",
"resolve":{"scale":{"x":"independent","y":"independent","shape":"independent","fill":"independent","stroke":"independent","strokeDash":"independent"},"legend":{"shape":"independent","fill":"independent","stroke":"independent"}}
}
